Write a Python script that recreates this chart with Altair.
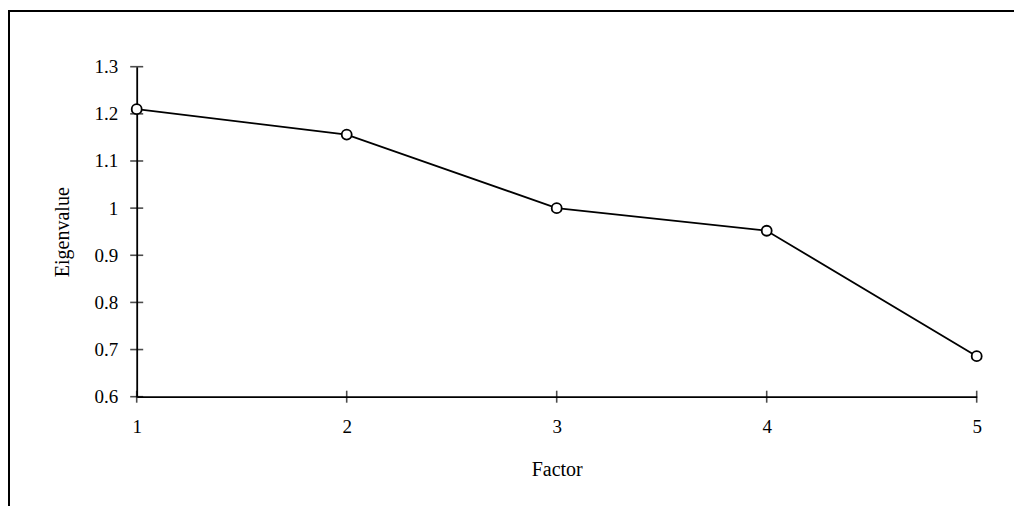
import altair as alt
import pandas as pd

factors = [1, 2, 3, 4, 5]
eigenvalues = [1.21, 1.156, 1.0, 0.952, 0.686]
y_ticks = [0.6, 0.7, 0.8, 0.9, 1.0, 1.1, 1.2, 1.3]
x_ticks = [1, 2, 3, 4, 5]

df = pd.DataFrame({"Factor": factors, "Eigenvalue": eigenvalues})
ytick_df = pd.DataFrame({"x": [1] * len(y_ticks), "y": y_ticks})
xtick_df = pd.DataFrame({"x": x_ticks, "y": [0.6] * len(x_ticks)})

FONT = "Liberation Serif"

xscale = alt.Scale(domain=[1, 5], nice=False, zero=False)
yscale = alt.Scale(domain=[0.6, 1.3], nice=False, zero=False)

xaxis = alt.Axis(
    values=x_ticks, format="d", ticks=False, grid=False, labelFlush=False,
    domainColor="black", domainWidth=1.8,
    labelFont=FONT, labelFontSize=19, labelColor="black", labelPadding=21,
    labelBaseline="top",
    title="Factor", titleFont=FONT, titleFontSize=20, titleFontWeight="normal",
    titleColor="black", titleY=73, titleBaseline="middle",
)
yaxis = alt.Axis(
    values=y_ticks, ticks=False, grid=False, labelFlush=False,
    labelExpr="format(datum.value, '.1f') == '1.0' ? '1' : format(datum.value, '.1f')",
    domainColor="black", domainWidth=1.8,
    labelFont=FONT, labelFontSize=19, labelColor="black", labelPadding=19,
    title="Eigenvalue", titleFont=FONT, titleFontSize=20, titleFontWeight="normal",
    titleColor="black", titleX=-74, titleBaseline="middle",
)

line = alt.Chart(df).mark_line(color="black", strokeWidth=1.8).encode(
    x=alt.X("Factor:Q", scale=xscale, axis=xaxis),
    y=alt.Y("Eigenvalue:Q", scale=yscale, axis=yaxis),
)
points = alt.Chart(df).mark_point(
    shape="circle", size=100, filled=True, fill="white", stroke="black",
    strokeWidth=1.8, opacity=1,
).encode(
    x=alt.X("Factor:Q", scale=xscale),
    y=alt.Y("Eigenvalue:Q", scale=yscale),
)
yticks = alt.Chart(ytick_df).mark_tick(
    orient="horizontal", size=13, thickness=1.6, color="black"
).encode(
    x=alt.X("x:Q", scale=xscale),
    y=alt.Y("y:Q", scale=yscale),
)
xticks = alt.Chart(xtick_df).mark_tick(
    orient="vertical", size=12, thickness=1.6, color="black"
).encode(
    x=alt.X("x:Q", scale=xscale),
    y=alt.Y("y:Q", scale=yscale),
)

one = alt.Data(values=[{"a": 1}])
frame_left = alt.Chart(one).mark_rule(color="black", strokeWidth=2).encode(
    x=alt.value(-127.7), y=alt.value(-56.7), y2=alt.value(440)
)
frame_top = alt.Chart(one).mark_rule(color="black", strokeWidth=2).encode(
    x=alt.value(-128.7), x2=alt.value(880), y=alt.value(-55.7)
)

chart = alt.layer(frame_left, frame_top, line, yticks, xticks, points).properties(
    width=840, height=330,
    autosize=alt.AutoSizeParams(type="none"),
    padding={"left": 128.7, "top": 58.7, "right": 37.3, "bottom": 109.3},
    background="white",
).configure_view(stroke=None)

chart.save("out.html", embed_options={"renderer": "svg", "actions": False})
